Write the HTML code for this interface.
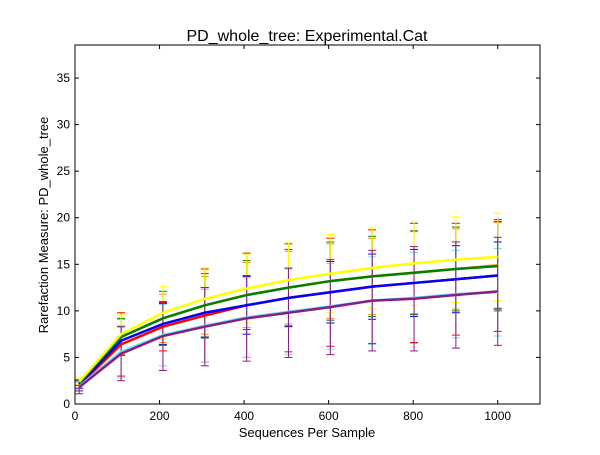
<!DOCTYPE html>
<html><head><meta charset="utf-8"><style>
body{margin:0;background:#fff;}
text{font-family:"Liberation Sans",sans-serif;fill:#000;}
</style></head><body>
<svg id="chart" width="600" height="450" xmlns="http://www.w3.org/2000/svg">
<rect width="600" height="450" fill="#fff"/>
<g id="bars"></g>
<g id="lines"></g>
<rect x="75" y="45" width="465" height="359" fill="none" stroke="#000" stroke-width="1"/>
<g id="ticks"></g>
<text x="307" y="41" font-size="16" text-anchor="middle">PD_whole_tree: Experimental.Cat</text>
<text x="307" y="437" font-size="13" text-anchor="middle">Sequences Per Sample</text>
<text transform="translate(48,225) rotate(-90)" font-size="13" text-anchor="middle">Rarefaction Measure: PD_whole_tree</text>
</svg>
<script>
const depths=[10,109,208,307,406,505,604,703,802,901,1000];
const xTicks=[0,200,400,600,800,1000];
const yTicks=[0,5,10,15,20,25,30,35];
const seriesNames=["red","blue","orange","green","yellow","cyan","purple"];
const seriesColors=["#ff0000","#0000ff","#ff8c00","#008000","#ffff00","#66e0f0","#8b1a8b"];
const redMean=[2.0,6.4,8.3,9.5,10.6,11.4,12.0,12.6,13.0,13.4,13.8];
const blueMean=[2.1,6.8,8.6,9.8,10.6,11.4,12.0,12.6,13.0,13.4,13.8];
const orangeMean=[2.3,7.2,9.2,10.6,11.7,12.5,13.2,13.7,14.1,14.5,14.9];
const greenMean=[2.3,7.2,9.2,10.6,11.7,12.5,13.2,13.7,14.1,14.5,14.8];
const yellowMean=[2.4,7.5,9.8,11.3,12.4,13.3,14.0,14.6,15.1,15.5,15.8];
const cyanMean=[1.9,5.6,7.4,8.4,9.3,9.9,10.5,11.1,11.4,11.8,12.0];
const purpleMean=[1.8,5.4,7.3,8.3,9.2,9.8,10.4,11.1,11.3,11.7,12.1];
const redStd=[0.6,3.4,2.6,5.0,5.6,5.8,5.8,6.1,6.4,6.0,6.0];
const blueStd=[0.4,1.5,2.2,2.7,3.1,3.1,3.3,3.5,3.6,3.6,3.6];
const orangeStd=[0.3,1.9,2.6,3.1,3.5,3.9,4.0,4.1,4.4,4.3,4.6];
const greenStd=[0.3,2.0,2.9,3.4,3.7,4.1,4.2,4.3,4.5,4.5,4.8];
const yellowStd=[0.3,2.1,2.8,3.3,3.7,4.0,4.2,4.3,4.5,4.6,4.7];
const cyanStd=[0.4,2.8,3.3,3.9,4.3,4.6,4.6,4.7,4.9,4.7,4.7];
const purpleStd=[0.7,2.9,3.7,4.2,4.6,4.8,5.1,5.4,5.6,5.7,5.8];
const means=[redMean,blueMean,orangeMean,greenMean,yellowMean,cyanMean,purpleMean];
const stds=[redStd,blueStd,orangeStd,greenStd,yellowStd,cyanStd,purpleStd];
const NS="http://www.w3.org/2000/svg";
const X0=75,X1=540,Y0=404,Y1=45,XMAX=1100,YMAX=38.55;
function xs(v){return X0+v/XMAX*(X1-X0);}
function ys(v){return Y0-v/YMAX*(Y0-Y1);}
function mk(tag,attrs,parent){const e=document.createElementNS(NS,tag);for(const k in attrs)e.setAttribute(k,attrs[k]);parent.appendChild(e);return e;}
const bars=document.getElementById('bars'),lines=document.getElementById('lines'),ticks=document.getElementById('ticks');
means.forEach((m,s)=>{
  m.forEach((v,i)=>{
    const x=xs(depths[i]),t=ys(v+stds[s][i]),b=ys(v-stds[s][i]);
    const g=mk('g',{stroke:seriesColors[s],'stroke-width':1},bars);
    
    
    mk('line',{x1:x,x2:x,y1:t,y2:b},g);
    mk('line',{x1:x-4,x2:x+4,y1:t,y2:t},g);
    mk('line',{x1:x-4,x2:x+4,y1:b,y2:b},g);
  });
  const pts=m.map((v,i)=>xs(depths[i])+','+ys(v)).join(' ');
  const p=mk('polyline',{points:pts,fill:'none',stroke:seriesColors[s],'stroke-width':2.5},lines);
  
  
});
xTicks.forEach(v=>{
  const x=xs(v);
  mk('line',{x1:x,x2:x,y1:Y0,y2:Y0-4,stroke:'#000'},ticks);
  mk('line',{x1:x,x2:x,y1:Y1,y2:Y1+4,stroke:'#000'},ticks);
  const t=mk('text',{x:x,y:Y0+16,'font-size':12,'text-anchor':'middle'},ticks);
  
  
  t.textContent=v;
});
yTicks.forEach(v=>{
  const y=ys(v);
  mk('line',{x1:X0,x2:X0+4,y1:y,y2:y,stroke:'#000'},ticks);
  mk('line',{x1:X1,x2:X1-4,y1:y,y2:y,stroke:'#000'},ticks);
  const t=mk('text',{x:X0-5,y:y+4,'font-size':12,'text-anchor':'end'},ticks);
  
  
  t.textContent=v;
});
</script>
</body></html>
